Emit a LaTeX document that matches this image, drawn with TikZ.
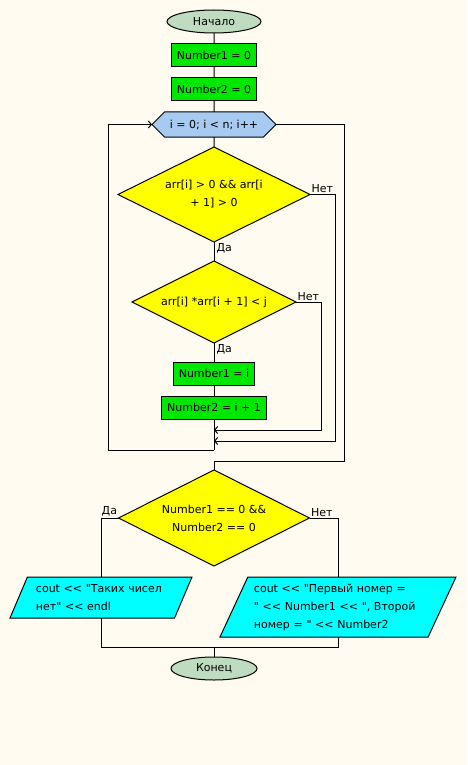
\documentclass[tikz,border=0pt]{standalone}
\usepackage{fontspec}
\setmainfont{DejaVu Sans}[Ligatures=TeXOff]
\usetikzlibrary{positioning, arrows.meta, shapes.geometric, shapes.symbols, calc}

\definecolor{bgcol}{RGB}{255,251,240}
\definecolor{termcol}{RGB}{192,220,192}
\definecolor{proccol}{RGB}{0,232,0}
\definecolor{cyclecol}{RGB}{166,202,240}
\definecolor{condcol}{RGB}{255,255,0}
\definecolor{iocol}{RGB}{0,255,255}

\begin{document}
\begin{tikzpicture}[
    x=1pt, y=1pt,
    font=\fontsize{11}{18}\selectfont,
    line width=1pt,
    every node/.style={outer sep=0pt},
    term/.style={ellipse, draw, fill=termcol, minimum height=23pt, inner sep=0pt},
    proc/.style={rectangle, draw, fill=proccol, minimum height=23pt, inner xsep=5.5pt, inner ysep=0pt},
    cycle/.style={signal, signal to=west and east, draw, fill=cyclecol,
        minimum width=124pt, minimum height=25pt, inner sep=0pt},
    cond/.style={diamond, aspect=2, draw, fill=condcol, inner sep=0pt, align=center},
    io/.style={trapezium, trapezium left angle=63, trapezium right angle=117,
        trapezium stretches body, draw, fill=iocol, align=left, inner sep=4pt},
    back/.style={-{Straight Barb[length=3pt,width=7pt]}},
    answer/.style={inner sep=1.5pt}
]

% --- Фон ---
\fill[bgcol] (0,0) rectangle (467,-765);

% --- Начало и инициализация ---
\node[term, minimum width=94pt] (start) at (214,-21.5) {Начало};
\node[proc, below=11pt of start] (num1) {Number1 = 0};
\node[proc, below=11pt of num1] (num2) {Number2 = 0};

% --- Цикл ---
\node[cycle, below=11pt of num2] (loop) {i = 0; i < n; i++};
\node[cond, minimum width=192pt, minimum height=95pt, below=10pt of loop] (cond1)
    {arr[i] > 0 \&\& arr[i\\+ 1] > 0};
\node[cond, minimum width=164pt, minimum height=82pt, below=19pt of cond1] (cond2)
    {arr[i] *arr[i + 1] < j};
\node[proc, below=19pt of cond2] (set1) {Number1 = i};
\node[proc, below=11pt of set1] (set2) {Number2 = i + 1};

\coordinate[below=11pt of set2] (join2);
\coordinate[below=22pt of set2] (join1);
\coordinate[below=31pt of set2] (join0);

% --- Проверка результата ---
\node[cond, minimum width=191pt, minimum height=96pt, below=51pt of set2] (cond3)
    {Number1 == 0 \&\&\\Number2 == 0};
\coordinate[above=9pt of cond3] (exit);
\node[io, text width=130pt, minimum width=182pt, minimum height=41pt,
    below=11pt of cond3, xshift=-113pt] (out1)
    {cout << "Таких чисел\\нет" << endl};
\node[io, text width=168pt, minimum width=236pt, minimum height=60pt,
    below=11pt of cond3, xshift=124pt] (out2)
    {cout << "Первый номер =\\" << Number1 << ", Второй\\номер = " << Number2};
\coordinate[below=81pt of cond3] (merge);
\node[term, minimum width=86pt, below=10pt of merge] (stop) {Конец};

% --- Линии ---
\draw (start) -- (num1) -- (num2) -- (loop) -- (cond1);
\draw (cond1) -- (cond2) -- (set1) -- (set2) -- (join0);
\draw[back] (cond1.east) -- ++(25,0) |- (join1);
\draw[back] (cond2.east) -- ++(25,0) |- (join2);
\draw[back] (join0) -| ($(loop.west)+(-44,0)$) -- (loop.west);
\draw (loop.east) -- ++(68,0) |- (exit) -- (cond3);
\draw (cond3.west) -| (out1.north);
\draw (cond3.east) -| (out2.north);
\draw (out1.south) |- (merge);
\draw (out2.south) |- (merge) -- (stop);

% --- Подписи ---
\node[answer, anchor=south west] at (cond1.east) {Нет};
\node[answer, anchor=north west, xshift=1pt] at (cond1.south) {Да};
\node[answer, anchor=south west] at (cond2.east) {Нет};
\node[answer, anchor=north west, xshift=1pt] at (cond2.south) {Да};
\node[answer, anchor=south east] at (cond3.west) {Да};
\node[answer, anchor=south west] at (cond3.east) {Нет};

\end{tikzpicture}
\end{document}
